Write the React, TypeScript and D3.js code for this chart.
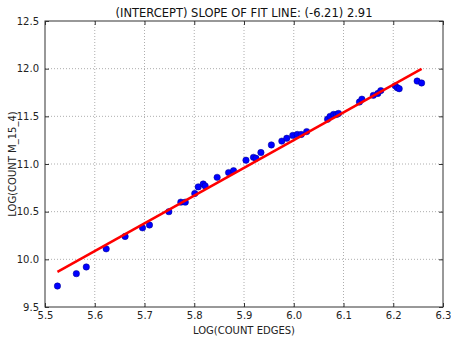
import React, { useEffect, useRef } from 'react';
import * as d3 from 'd3';

// log(count edges)
const xValues = [
  5.525, 5.563, 5.583, 5.623, 5.661, 5.696, 5.710, 5.749, 5.773, 5.782,
  5.801, 5.808, 5.818, 5.822, 5.846, 5.869, 5.879, 5.904, 5.919, 5.924,
  5.934, 5.955, 5.976, 5.986, 5.998, 6.007, 6.015, 6.026, 6.068, 6.073,
  6.080, 6.086, 6.090, 6.132, 6.137, 6.160, 6.169, 6.175, 6.204, 6.208,
  6.212, 6.248, 6.257,
];
// log(count m_15_4)
const yValues = [
  9.72, 9.85, 9.92, 10.11, 10.24, 10.33, 10.36, 10.50, 10.60, 10.60,
  10.69, 10.76, 10.79, 10.77, 10.86, 10.91, 10.93, 11.04, 11.07, 11.06,
  11.12, 11.20, 11.24, 11.27, 11.30, 11.31, 11.31, 11.34, 11.47, 11.50,
  11.52, 11.52, 11.53, 11.65, 11.68, 11.72, 11.74, 11.77, 11.82, 11.80,
  11.79, 11.87, 11.85,
];

const intercept = -6.21;
const slope = 2.91;

const xTicks = [5.5, 5.6, 5.7, 5.8, 5.9, 6.0, 6.1, 6.2, 6.3];
const yTicks = [9.5, 10.0, 10.5, 11.0, 11.5, 12.0, 12.5];

const App = () => {
  const svgRef = useRef<SVGSVGElement>(null);

  useEffect(() => {
    const margin = { top: 21, right: 8, bottom: 30, left: 45 };
    const width = 443 - margin.left;
    const height = 307 - margin.top;
    const font = 'DejaVu Sans, sans-serif';

    const root = d3.select(svgRef.current);
    root.selectAll('*').remove();

    const svg = root.append('g')
      .attr('transform', `translate(${margin.left}, ${margin.top})`);

    const x = d3.scaleLinear().domain([5.5, 6.3]).range([0, width]);
    const y = d3.scaleLinear().domain([9.5, 12.5]).range([height, 0]);

    // grid
    svg.append('g').selectAll('line')
      .data(xTicks.slice(1, -1))
      .enter().append('line')
      .attr('x1', d => x(d)).attr('x2', d => x(d))
      .attr('y1', 0).attr('y2', height)
      .attr('stroke', '#999').attr('stroke-width', 0.8)
      .attr('stroke-dasharray', '1,2');
    svg.append('g').selectAll('line')
      .data(yTicks.slice(1, -1))
      .enter().append('line')
      .attr('y1', d => y(d)).attr('y2', d => y(d))
      .attr('x1', 0).attr('x2', width)
      .attr('stroke', '#999').attr('stroke-width', 0.8)
      .attr('stroke-dasharray', '1,2');

    const xf = d3.format('.1f');

    // axes, ticks pointing inward
    const bottom = svg.append('g')
      .attr('transform', `translate(0, ${height})`)
      .call(d3.axisBottom(x).tickValues(xTicks).tickFormat(d => xf(d as number)).tickSizeInner(-4).tickSizeOuter(0).tickPadding(5));
    const left = svg.append('g')
      .call(d3.axisLeft(y).tickValues(yTicks).tickFormat(d => xf(d as number)).tickSizeInner(-4).tickSizeOuter(0).tickPadding(6));
    svg.append('g')
      .call(d3.axisTop(x).tickValues(xTicks).tickFormat(() => '').tickSizeInner(-4).tickSizeOuter(0));
    svg.append('g')
      .attr('transform', `translate(${width}, 0)`)
      .call(d3.axisRight(y).tickValues(yTicks).tickFormat(() => '').tickSizeInner(-4).tickSizeOuter(0));

    [bottom, left].forEach(g => {
      g.selectAll('text')
        .attr('font-family', font)
        .attr('font-size', 10)
        .attr('fill', '#222');
    });
    svg.selectAll('.domain').remove();
    svg.selectAll('.tick line').attr('stroke', '#333');

    // data points
    svg.selectAll('.pt')
      .data(xValues.map((v, i) => [v, yValues[i]]))
      .enter().append('circle')
      .attr('class', 'pt')
      .attr('cx', d => x(d[0]))
      .attr('cy', d => y(d[1]))
      .attr('r', 3.2)
      .attr('fill', '#0000ff')
      .attr('stroke', '#00008a')
      .attr('stroke-width', 0.5);

    // fit line
    const x0 = d3.min(xValues) as number;
    const x1 = d3.max(xValues) as number;
    svg.append('line')
      .attr('x1', x(x0)).attr('y1', y(intercept + slope * x0))
      .attr('x2', x(x1)).attr('y2', y(intercept + slope * x1))
      .attr('stroke', '#ff0000')
      .attr('stroke-width', 2.5);

    // frame
    svg.append('rect')
      .attr('width', width).attr('height', height)
      .attr('fill', 'none').attr('stroke', '#333').attr('stroke-width', 1);

    // title and labels
    root.append('text')
      .attr('x', margin.left + width / 2).attr('y', 17)
      .attr('text-anchor', 'middle')
      .attr('font-family', font).attr('font-size', 11.5).attr('fill', '#111')
      .text(`(INTERCEPT) SLOPE OF FIT LINE: (${intercept}) ${slope}`);
    root.append('text')
      .attr('x', margin.left + width / 2).attr('y', 334)
      .attr('text-anchor', 'middle')
      .attr('font-family', font).attr('font-size', 10).attr('fill', '#222')
      .text('LOG(COUNT EDGES)');
    root.append('text')
      .attr('transform', `translate(16, ${margin.top + height / 2}) rotate(-90)`)
      .attr('text-anchor', 'middle')
      .attr('font-family', font).attr('font-size', 10).attr('fill', '#222')
      .text('LOG(COUNT M_15_4)');
  }, []);

  return (
    <svg ref={svgRef} width={451} height={337}
      style={{ position: 'absolute', left: 0, top: 0, background: '#fff' }} />
  );
};

export default App;
